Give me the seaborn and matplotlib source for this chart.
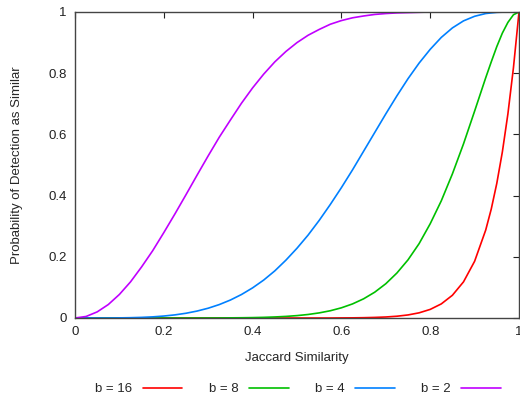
import matplotlib
matplotlib.use("Agg")
import matplotlib.pyplot as plt
import seaborn as sns
import pandas as pd

# Jaccard similarity sample points
similarity = [0, .025, .05, .075, .1, .125, .15, .175, .2, .225,
              .25, .275, .3, .325, .35, .375, .4, .425, .45, .475,
              .5, .525, .55, .575, .6, .625, .65, .675, .7, .725,
              .75, .775, .8, .825, .85, .875, .9, .925, .9375, .95,
              .9625, .975, .9875, 1]

# probability of detection
p_b16 = [0, 0, 0, 0, 0, 0, 0, 0, 0, 0,
         0, 0, 0, 0, 0, 0, 0, 0, 0, 0,
         0, 0, 0, 0, .0003, .0005, .001, .0019, .0033, .0058,
         .0100, .0169, .0281, .0461, .0743, .1181, .1853, .2873, .356, .4401,
         .5425, .667, .818, 1]
p_b8 = [0, 0, 0, 0, 0, 0, 0, 0, 0, 0,
        0, 0, .0001, .0002, .0005, .0008, .0013, .0021, .0034, .0052,
        .0078, .0115, .0167, .0237, .0333, .046, .0627, .0843, .112, .147,
        .190, .243, .308, .383, .471, .569, .676, .785, .837, .887,
        .931, .966, .991, 1]
p_b4 = [0, 0, 0, 0, .0004, .001, .002, .0037, .0064, .0102,
        .0155, .0227, .032, .0439, .0587, .0768, .0985, .124, .154, .189,
        .228, .271, .319, .371, .426, .484, .545, .606, .667, .726,
        .782, .833, .878, .917, .948, .971, .986, .995, .997, .9988,
        .9995, .9999, 1, 1]
p_b2 = [0, .005, .020, .044, .077, .118, .167, .220, .279, .340,
        .403, .467, .530, .591, .647, .702, .752, .797, .837, .871,
        .900, .924, .943, .960, .972, .981, .987, .992, .995, .997,
        .998, .999, 1, 1, 1, 1, 1, 1, 1, 1,
        1, 1, 1, 1]

labels = ["b = 16", "b = 8", "b = 4", "b = 2"]
colors = ["#ff0000", "#00c000", "#0080ff", "#c000ff"]

rows = []
for lab, vals in zip(labels, [p_b16, p_b8, p_b4, p_b2]):
    for s, p in zip(similarity, vals):
        rows.append({"s": s, "p": p, "band": lab})
df = pd.DataFrame(rows)

sns.set_style("white")
plt.rcParams["font.family"] = ["Liberation Sans", "DejaVu Sans"]

fig = plt.figure(figsize=(5.2, 4.01), dpi=100)
ax = fig.add_axes([75 / 520, 1 - 318 / 401, 444 / 520, 306 / 401])

sns.lineplot(data=df, x="s", y="p", hue="band", palette=colors,
             hue_order=labels, linewidth=1.2, ax=ax, legend=False)

ax.set_xlim(0, 1)
ax.set_ylim(0, 1)
ticks = [0, 0.2, 0.4, 0.6, 0.8, 1]
ax.set_xticks(ticks)
ax.set_yticks(ticks)
ax.set_xticklabels(["0", "0.2", "0.4", "0.6", "0.8", "1"])
ax.set_yticklabels(["0", "0.2", "0.4", "0.6", "0.8", "1"])
ax.tick_params(direction="in", length=4, width=0.8, top=True, right=True,
               labelsize=9.5, colors="#222222", pad=6)
for sp in ax.spines.values():
    sp.set_color("#444444")
    sp.set_linewidth(1)
ax.set_xlabel("Jaccard Similarity", fontsize=9.5, labelpad=10)
ax.set_ylabel("Probability of Detection as Similar", fontsize=9.5, labelpad=18)

handles = [plt.Line2D([], [], color=c, linewidth=1.2) for c in colors]
fig.legend(handles, labels, loc="center", bbox_to_anchor=(298 / 520, 1 - 389 / 401),
           ncol=4, frameon=False, markerfirst=False, fontsize=9.5,
           handlelength=3.0, handletextpad=0.8, columnspacing=2.0)

fig.savefig("out.png", dpi=100)
